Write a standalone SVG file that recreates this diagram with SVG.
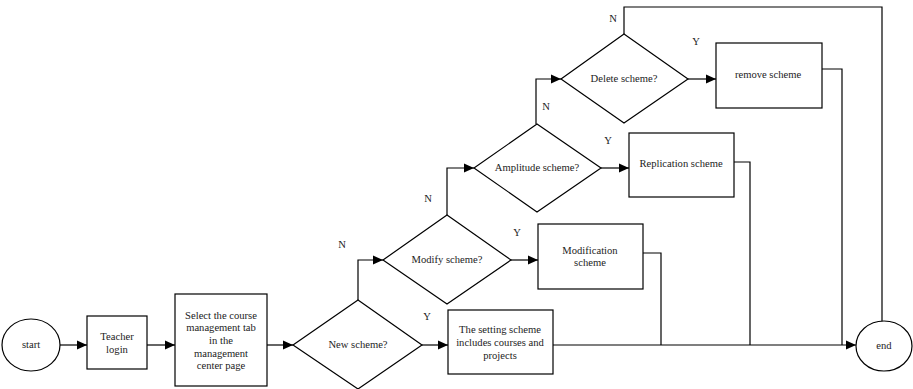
<svg xmlns="http://www.w3.org/2000/svg" width="913" height="389" viewBox="0 0 913 389">
<style>
.s{fill:#fff;stroke:#000;stroke-width:1.2}
.c{fill:none;stroke:#000;stroke-width:1.2}
text{font-family:"Liberation Serif","Times New Roman",serif;font-size:10.6px;fill:#222}
.m{text-anchor:middle}
</style>
<defs>
<marker id="a" markerUnits="userSpaceOnUse" markerWidth="10" markerHeight="10" refX="10" refY="5" orient="auto">
<path d="M0,0.5 L10,5 L0,9.5 z" fill="#000"/>
</marker>
</defs>
<rect width="913" height="389" fill="#fff"/>
<g id="connectors">
<path class="c" d="M60,345 L87,345" marker-end="url(#a)"/>
<path class="c" d="M147,345 L175,345" marker-end="url(#a)"/>
<path class="c" d="M267,345 L293,345" marker-end="url(#a)"/>
<path class="c" d="M422,345 L448,345" marker-end="url(#a)"/>
<path class="c" d="M553,345 L856,345" marker-end="url(#a)"/>
<path class="c" d="M358,300 L358,260 L383,260" marker-end="url(#a)"/>
<path class="c" d="M511,260 L538,260" marker-end="url(#a)"/>
<path class="c" d="M643,253 L661,253 L661,345"/>
<path class="c" d="M447,215 L447,168 L474,168" marker-end="url(#a)"/>
<path class="c" d="M601,168 L629,168" marker-end="url(#a)"/>
<path class="c" d="M734,162 L750,162 L750,345"/>
<path class="c" d="M536,124 L536,79 L561,79" marker-end="url(#a)"/>
<path class="c" d="M688,79 L716,79" marker-end="url(#a)"/>
<path class="c" d="M822,69 L842,69 L842,345"/>
<path class="c" d="M624,34 L624,7 L882,7 L882,322"/>
<text x="342" y="248" class="m">N</text>
<text x="427" y="320" class="m">Y</text>
<text x="517" y="236" class="m">Y</text>
<text x="428" y="202" class="m">N</text>
<text x="608" y="144" class="m">Y</text>
<text x="546" y="110" class="m">N</text>
<text x="696" y="45" class="m">Y</text>
<text x="613" y="22" class="m">N</text>
</g>
<g id="start">
<ellipse class="s" cx="31" cy="345" rx="29" ry="26"/>
<text x="31" y="348" class="m">start</text>
</g>
<g id="teacher">
<rect class="s" x="87" y="316" width="60" height="53"/>
<text x="117" y="340" class="m">Teacher</text>
<text x="117" y="353" class="m">login</text>
</g>
<g id="select">
<rect class="s" x="175" y="294" width="92" height="92"/>
<text x="221" y="319" class="m">Select the course</text>
<text x="221" y="331" class="m">management tab</text>
<text x="221" y="344" class="m">in the</text>
<text x="221" y="357" class="m">management</text>
<text x="221" y="369" class="m">center page</text>
</g>
<g id="newscheme">
<path class="s" d="M293,345 L358,300 L422,345 L358,389 z"/>
<text x="358" y="348" class="m">New scheme?</text>
</g>
<g id="setting">
<rect class="s" x="448" y="310" width="105" height="64"/>
<text x="500" y="333" class="m">The setting scheme</text>
<text x="500" y="346" class="m">includes courses and</text>
<text x="500" y="359" class="m">projects</text>
</g>
<g id="modify">
<path class="s" d="M383,260 L447,215 L511,260 L447,304 z"/>
<text x="447" y="263" class="m">Modify scheme?</text>
</g>
<g id="modification">
<rect class="s" x="538" y="224" width="105" height="65"/>
<text x="590" y="254" class="m">Modification</text>
<text x="590" y="266" class="m">scheme</text>
</g>
<g id="amplitude">
<path class="s" d="M474,168 L537,124 L601,168 L537,212 z"/>
<text x="537" y="171" class="m">Amplitude scheme?</text>
</g>
<g id="replication">
<rect class="s" x="629" y="133" width="105" height="64"/>
<text x="681" y="167" class="m">Replication scheme</text>
</g>
<g id="delete">
<path class="s" d="M561,79 L624,34 L688,79 L624,123 z"/>
<text x="624" y="82" class="m">Delete scheme?</text>
</g>
<g id="remove">
<rect class="s" x="716" y="43" width="106" height="65"/>
<text x="768" y="78" class="m">remove scheme</text>
</g>
<g id="end">
<ellipse class="s" cx="884" cy="346" rx="28" ry="25"/>
<text x="884" y="349" class="m">end</text>
</g>
</svg>
